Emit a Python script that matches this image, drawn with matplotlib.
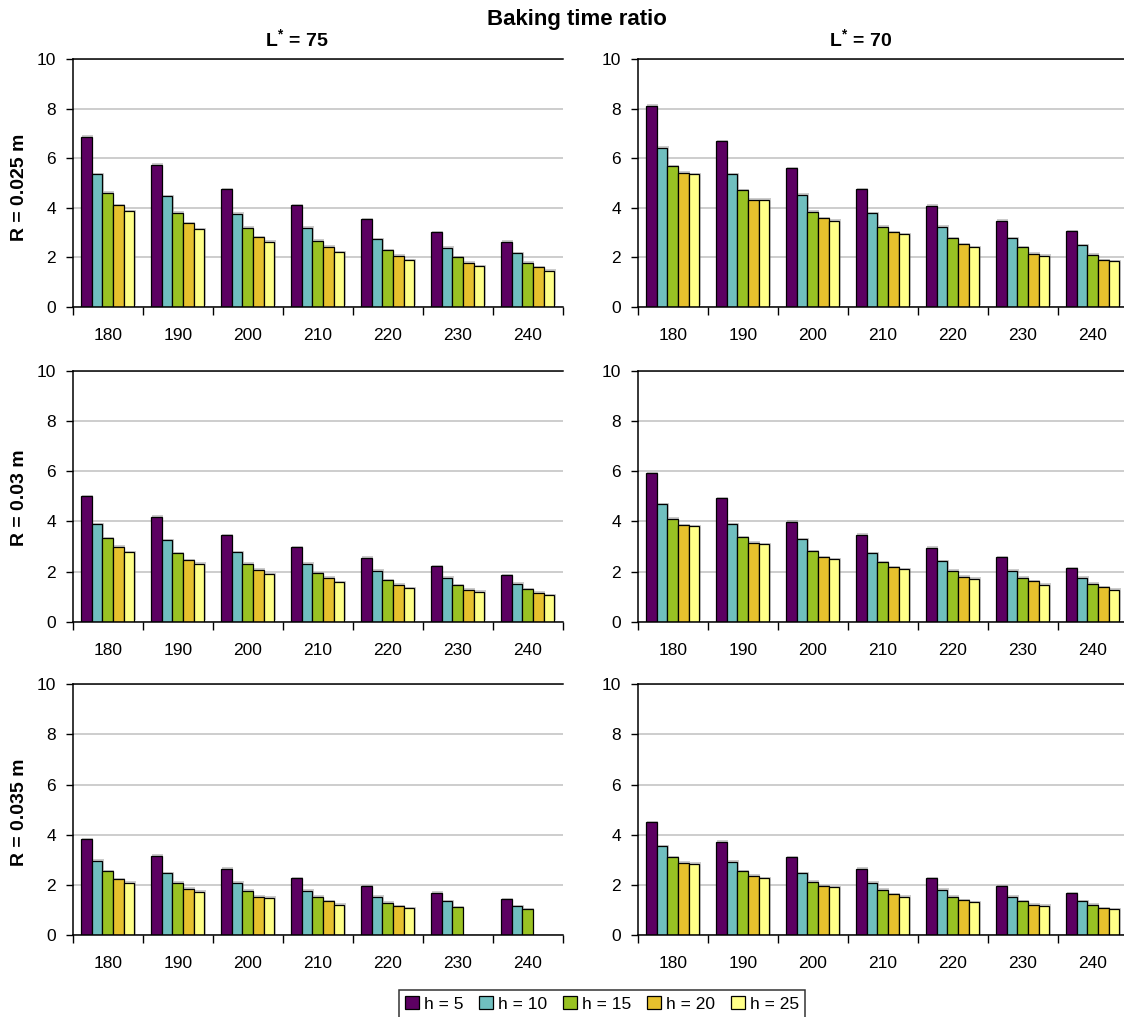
import numpy as np
import matplotlib
matplotlib.use("Agg")
import matplotlib.pyplot as plt
import matplotlib.patheffects as pe
from matplotlib.patches import Patch

plt.rcParams['font.family'] = ['Liberation Sans', 'DejaVu Sans']
plt.rcParams['mathtext.fontset'] = 'custom'
plt.rcParams['mathtext.rm'] = 'Liberation Sans:bold'
plt.rcParams['mathtext.bf'] = 'Liberation Sans:bold'

temperatures = ['180', '190', '200', '210', '220', '230', '240']
series_names = ['h = 5', 'h = 10', 'h = 15', 'h = 20', 'h = 25']
colors = ['#5c0062', '#70bfbf', '#99c223', '#e6c12d', '#ffff88']
col_titles = [r'L$^{*}$ = 75', r'L$^{*}$ = 70']
row_titles = ['R = 0.025 m', 'R = 0.03 m', 'R = 0.035 m']

# ratio values, one row per temperature, columns h = 5..25
l75_r025 = [[6.87, 5.36, 4.61, 4.10, 3.85],
            [5.74, 4.47, 3.80, 3.38, 3.14],
            [4.76, 3.76, 3.19, 2.82, 2.63],
            [4.10, 3.19, 2.67, 2.43, 2.21],
            [3.53, 2.72, 2.29, 2.06, 1.87],
            [3.01, 2.39, 2.01, 1.78, 1.63],
            [2.63, 2.16, 1.78, 1.59, 1.46]]
l70_r025 = [[8.13, 6.43, 5.69, 5.41, 5.36],
            [6.68, 5.36, 4.70, 4.32, 4.32],
            [5.60, 4.52, 3.84, 3.57, 3.47],
            [4.74, 3.77, 3.23, 3.00, 2.92],
            [4.09, 3.23, 2.76, 2.53, 2.40],
            [3.47, 2.77, 2.40, 2.15, 2.06],
            [3.04, 2.49, 2.10, 1.87, 1.83]]
l75_r03 = [[5.01, 3.89, 3.32, 2.99, 2.76],
           [4.18, 3.24, 2.72, 2.44, 2.31],
           [3.44, 2.78, 2.31, 2.07, 1.89],
           [2.96, 2.31, 1.93, 1.75, 1.57],
           [2.55, 2.03, 1.65, 1.47, 1.33],
           [2.20, 1.75, 1.46, 1.27, 1.20],
           [1.85, 1.51, 1.29, 1.16, 1.05]]
l70_r03 = [[5.92, 4.68, 4.11, 3.85, 3.80],
           [4.91, 3.89, 3.36, 3.14, 3.10],
           [3.99, 3.28, 2.82, 2.58, 2.49],
           [3.47, 2.74, 2.36, 2.17, 2.08],
           [2.95, 2.41, 2.03, 1.80, 1.71],
           [2.58, 2.03, 1.75, 1.62, 1.47],
           [2.12, 1.75, 1.51, 1.38, 1.28]]
l75_r035 = [[3.82, 2.97, 2.55, 2.22, 2.09],
            [3.16, 2.46, 2.09, 1.85, 1.73],
            [2.65, 2.09, 1.77, 1.53, 1.49],
            [2.27, 1.77, 1.53, 1.36, 1.21],
            [1.94, 1.53, 1.29, 1.16, 1.06],
            [1.68, 1.34, 1.12, np.nan, np.nan],
            [1.44, 1.16, 1.02, np.nan, np.nan]]
l70_r035 = [[4.51, 3.54, 3.11, 2.89, 2.85],
            [3.72, 2.93, 2.55, 2.37, 2.27],
            [3.11, 2.46, 2.13, 1.94, 1.90],
            [2.65, 2.09, 1.81, 1.62, 1.53],
            [2.27, 1.81, 1.53, 1.40, 1.30],
            [1.94, 1.53, 1.34, 1.21, 1.17],
            [1.66, 1.34, 1.21, 1.06, 1.02]]

panels = [[l75_r025, l70_r025],
          [l75_r03, l70_r03],
          [l75_r035, l70_r035]]

W, H = 1124, 1017
fig = plt.figure(figsize=(W / 100, H / 100), dpi=100)

# axes boxes in pixels: (left, top, bottom)
col_left = [72.7, 637.7]
row_span = [(59.3, 306.7), (370.7, 621.7), (684.3, 935.0)]
ax_w = 490

x = np.arange(len(temperatures))
bw = 0.153
shadow = [pe.SimplePatchShadow(offset=(1.0, 1.0), shadow_rgbFace='#808080', alpha=0.4),
          pe.Normal()]

for r, (top, bot) in enumerate(row_span):
    for c, left in enumerate(col_left):
        ax = fig.add_axes([left / W, 1 - bot / H, ax_w / W, (bot - top) / H])
        data = np.array(panels[r][c], dtype=float)
        for i in range(len(series_names)):
            bars = ax.bar(x + (i - 2) * bw, data[:, i], width=bw, color=colors[i],
                          edgecolor='black', linewidth=0.9, zorder=3)
            for b in bars:
                b.set_path_effects(shadow)
        ax.set_xlim(-0.5, len(temperatures) - 0.5)
        ax.set_ylim(0, 10)
        ax.set_yticks(range(0, 11, 2))
        ax.yaxis.grid(True, color='#c0c0c0', linewidth=1.1, zorder=0)
        ax.set_xticks(np.arange(len(temperatures) + 1) - 0.5)
        ax.set_xticklabels([])
        ax.set_xticks(x, minor=True)
        ax.set_xticklabels(temperatures, minor=True)
        ax.tick_params(axis='x', which='major', direction='out', length=6, width=1)
        ax.tick_params(axis='x', which='minor', length=0, pad=15, labelsize=12.5)
        ax.tick_params(axis='y', direction='out', length=5, width=1, pad=7, labelsize=12.5)
        ax.spines['right'].set_visible(False)
        for s in ['left', 'bottom', 'top']:
            ax.spines[s].set_linewidth(1.1)
            ax.spines[s].set_zorder(4)

fig.text(577 / W, 1 - 20 / H, 'Baking time ratio', ha='center', va='center',
         fontsize=16, fontweight='bold')
for xc, t in zip([297, 861], col_titles):
    fig.text(xc / W, 1 - 40 / H, t, ha='center', va='center',
             fontsize=14, fontweight='bold')
for yc, t in zip([187, 498, 812], row_titles):
    fig.text(20 / W, 1 - yc / H, t, ha='center', va='center', rotation=90,
             fontsize=14, fontweight='bold')

handles = [Patch(facecolor=col, edgecolor='black', linewidth=0.9, label=n)
           for col, n in zip(colors, series_names)]
leg = fig.legend(handles=handles, loc='upper left',
                 bbox_to_anchor=(399 / W, 1 - 990 / H), ncol=5, frameon=True,
                 fontsize=12.5, handlelength=0.8, handleheight=0.8,
                 handletextpad=0.3, columnspacing=0.9, borderpad=0.35,
                 borderaxespad=0, fancybox=False)
leg.get_frame().set_edgecolor('black')
leg.get_frame().set_linewidth(1.1)

fig.savefig('out.png', dpi=100)
